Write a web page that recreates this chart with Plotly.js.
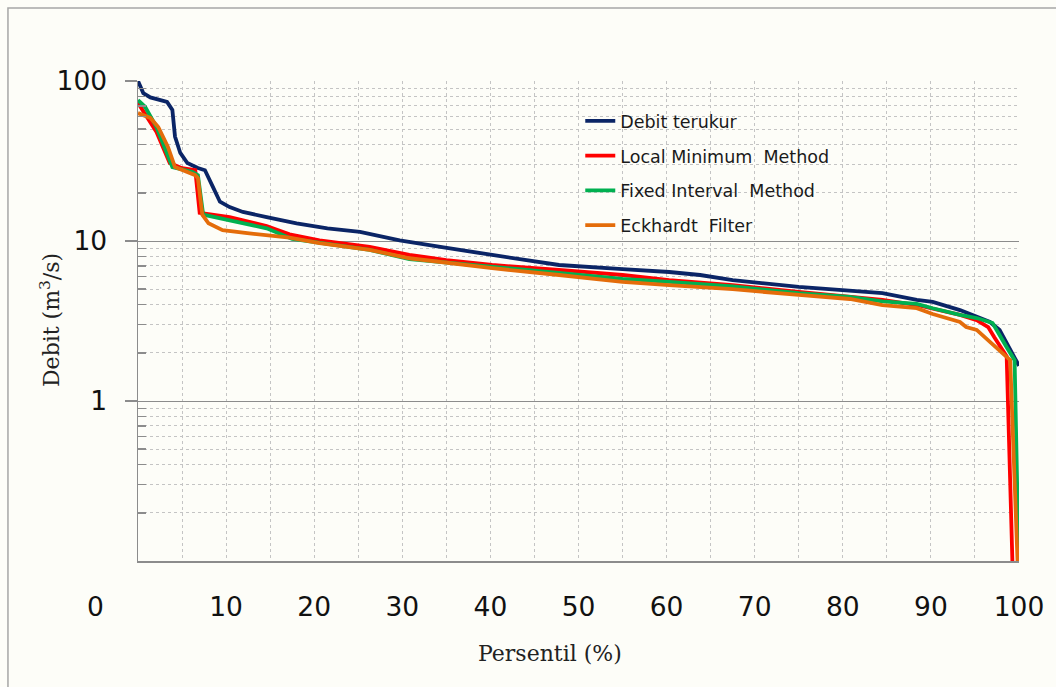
<!DOCTYPE html>
<html>
<head>
<meta charset="utf-8">
<script src="https://cdn.plot.ly/plotly-3.0.1.min.js"></script>
<style>
  html, body { margin: 0; padding: 0; background: #fdfdf8; }
  #chart { width: 1056px; height: 687px; }
</style>
</head>
<body>
<div id="chart"></div>
<script>
// Flow duration curves: exceedance percentile (%) vs discharge (m3/s)
const seriesNames = ["Debit terukur", "Local Minimum\u00a0 Method", "Fixed Interval\u00a0 Method", "Eckhardt\u00a0 Filter"];
const seriesColors = ["#0b2566", "#ff0000", "#00b050", "#e46c0a"];

const measuredPct = [0, 0.2, 0.6, 1.4, 3.3, 3.9, 4.2, 4.8, 5.6, 6.8, 7.6, 8.5, 9.3, 10.4, 11.9, 14.6, 18, 21.5, 25.2, 29.7, 32, 34.5, 40.2, 46, 47.8, 55, 60.3, 63.8, 67.5, 75, 80.8, 84.5, 88.4, 90.2, 93.3, 96.7, 97.8, 99, 99.8, 100];
const measuredQ   = [100, 95, 84, 79, 74, 66, 45, 35.5, 30.7, 28.6, 27.7, 21.8, 17.6, 16.3, 15.2, 14.1, 12.9, 12.0, 11.4, 10.1, 9.7, 9.17, 8.18, 7.39, 7.08, 6.68, 6.4, 6.13, 5.7, 5.16, 4.87, 4.73, 4.28, 4.16, 3.7, 3.12, 2.78, 2.08, 1.73, 1.66];

const localMinPct = [0, 1.0, 2.1, 3.6, 5.0, 6.5, 7.0, 10.4, 14.6, 17.2, 20.6, 26.3, 30.8, 35, 40.2, 47.8, 55, 60.3, 67.5, 75, 80.8, 84.5, 88.4, 93.3, 95.2, 96.5, 97.2, 98.6, 99.3];
const localMinQ   = [73, 60, 48, 30.7, 28.5, 27.7, 15, 14.1, 12.4, 11.0, 10.1, 9.2, 8.2, 7.6, 7.08, 6.6, 6.13, 5.7, 5.3, 4.8, 4.47, 4.28, 3.98, 3.45, 3.2, 2.9, 2.5, 1.9, 0.08];

const fixedIntPct = [0, 0.8, 2.1, 2.8, 3.9, 6.2, 6.8, 7.4, 10.4, 14.6, 17.5, 20.6, 26.3, 30.8, 40.2, 47.8, 55, 60.3, 67.5, 75, 80.8, 84.5, 88.4, 90.2, 93.3, 95.2, 97, 98.6, 99.5, 100];
const fixedIntQ   = [76, 69, 51.6, 41, 29, 27, 25.8, 14.6, 13.5, 12.0, 10.3, 9.7, 8.8, 7.7, 6.9, 6.3, 5.8, 5.55, 5.2, 4.73, 4.47, 4.2, 4.05, 3.8, 3.45, 3.3, 3.07, 2.17, 1.8, 0.08];

const eckhardtPct = [0, 1.4, 2.3, 3.4, 4.2, 6.5, 6.8, 7.3, 8.0, 9.6, 12.4, 14.9, 17.2, 20.6, 26.3, 30.8, 40.2, 47.8, 55, 60.3, 67.5, 75, 80.8, 84.5, 88.4, 90.2, 93.3, 94, 95.2, 96.7, 98.6, 99.0, 99.9];
const eckhardtQ   = [63, 58.8, 51.6, 38.7, 29, 25.8, 24.7, 14.6, 12.9, 11.7, 11.2, 10.9, 10.5, 9.7, 8.8, 7.8, 6.76, 6.13, 5.55, 5.3, 5.0, 4.6, 4.34, 3.98, 3.8, 3.5, 3.12, 2.9, 2.78, 2.34, 1.88, 1.8, 0.08];

const xTickVals = [10, 20, 30, 40, 50, 60, 70, 80, 90, 100];
const yTickVals = [1, 10, 100];
const yTickText = ["1", "10", "100"];
const yMinorVals = [0.2, 0.3, 0.4, 0.5, 0.6, 0.7, 0.8, 0.9, 2, 3, 4, 5, 6, 7, 8, 9, 20, 30, 40, 50, 60, 70, 80, 90];

const xs = [measuredPct, localMinPct, fixedIntPct, eckhardtPct];
const ys = [measuredQ, localMinQ, fixedIntQ, eckhardtQ];

const traces = xs.map((x, i) => ({
  type: "scatter",
  mode: "lines",
  x: x,
  y: ys[i],
  name: seriesNames[i],
  legendgroup: "g" + i,
  line: { color: seriesColors[i], width: 3.8 },
  hoverinfo: "x+y+name"
}));

const tickFont = { family: "DejaVu Sans, Verdana, sans-serif", size: 26.5, color: "#111111" };
const titleFont = { family: "DejaVu Serif, Liberation Serif, serif", size: 22, color: "#222222" };
const axisGrey = "#8c8c8c";
const dotGrey = "#c4c4c4";

const layout = {
  width: 1056,
  height: 687,
  margin: { l: 138, r: 37, t: 81, b: 126 },
  paper_bgcolor: "#fdfdf8",
  plot_bgcolor: "#fdfdf8",
  showlegend: true,
  legend: {
    x: 0.502, y: 0.954, xanchor: "left", yanchor: "top",
    bgcolor: "rgba(0,0,0,0)",
    font: { family: "DejaVu Sans, Verdana, sans-serif", size: 17.5, color: "#1a1a1a" },
    tracegroupgap: 9
  },
  xaxis: {
    range: [0, 100],
    tickmode: "array",
    tickvals: xTickVals,
    ticks: "",
    tickfont: tickFont,
    ticklabelstandoff: 22,
    showgrid: true,
    gridcolor: dotGrey,
    griddash: "dot",
    gridwidth: 1,
    minor: { dtick: 5, tick0: 0, showgrid: true, gridcolor: dotGrey, griddash: "dot", gridwidth: 1 },
    showline: true,
    linecolor: axisGrey,
    linewidth: 1.5,
    zeroline: false,
    fixedrange: true
  },
  yaxis: {
    type: "log",
    range: [-1, 2],
    tickmode: "array",
    tickvals: yTickVals,
    ticktext: yTickText,
    ticks: "outside",
    ticklen: 12,
    tickcolor: axisGrey,
    tickwidth: 1.5,
    tickfont: tickFont,
    ticklabelstandoff: 12,
    showgrid: true,
    gridcolor: axisGrey,
    gridwidth: 1,
    minor: {
      tickmode: "array", tickvals: yMinorVals,
      ticks: "inside", ticklen: 8, tickcolor: axisGrey, tickwidth: 1.5,
      showgrid: true, gridcolor: dotGrey, griddash: "dot", gridwidth: 1
    },
    showline: true,
    linecolor: axisGrey,
    linewidth: 1.5,
    zeroline: false,
    fixedrange: true
  },
  annotations: [
    { text: "0", xref: "paper", yref: "paper", x: -0.0488, y: -0.0958,
      xanchor: "center", yanchor: "middle", showarrow: false, font: tickFont },
    { text: "Persentil (%)", xref: "paper", yref: "paper", x: 0.4677, y: -0.1917,
      xanchor: "center", yanchor: "middle", showarrow: false, font: titleFont },
    { text: "Debit (m<sup>3</sup>/s)", xref: "paper", yref: "paper", x: -0.0999, y: 0.502,
      xanchor: "center", yanchor: "middle", showarrow: false, textangle: -90, font: titleFont }
  ],
  shapes: [
    { type: "rect", xref: "paper", yref: "paper", x0: -0.1476, x1: 1.05, y0: -0.3, y1: 1.152,
      line: { color: "#a6a6a6", width: 1.5 }, fillcolor: "rgba(0,0,0,0)", layer: "below" }
  ]
};

Plotly.newPlot("chart", traces, layout, { displayModeBar: false, staticPlot: true });
</script>
</body>
</html>
